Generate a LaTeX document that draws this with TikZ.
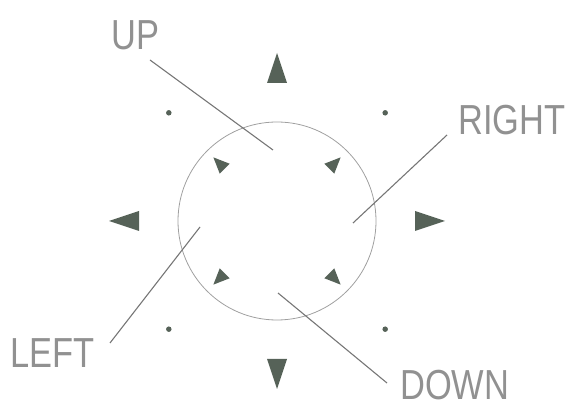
\documentclass[tikz,border=0pt]{standalone}
\usepackage{fontspec}
\newfontfamily\capfont[FakeStretch=0.82]{Liberation Sans}
\usetikzlibrary{calc}
\definecolor{inkgreen}{RGB}{86,98,88}
\definecolor{leadgray}{RGB}{118,118,118}
\definecolor{ringgray}{RGB}{160,160,160}
\definecolor{textgray}{RGB}{145,145,145}

\begin{document}
\begin{tikzpicture}[x=1pt,y=-1pt,
    caption/.style={inner sep=0pt,text=textgray,font=\capfont\fontsize{42}{42}\selectfont},
    leader/.style={draw=leadgray,line width=1.1pt},
    ring/.style={circle,draw=ringgray,line width=0.8pt,inner sep=0pt,minimum size=198pt},
    dot/.style={circle,fill=inkgreen,inner sep=0pt,minimum size=5.5pt},
    wedge/.style={fill=inkgreen}
  ]
    \useasboundingbox (0,0) rectangle (576,411);
    \coordinate (c) at (277,221);

    % pad outline
    \node[ring] (pad) at (c) {};

    % outer arrows, inner arrows, corner dots
    \foreach \ang in {0,90,180,270}
      \fill[wedge,shift={($(c)+(\ang:153)$)},rotate=-\ang]
        (15,0) -- (-15,10) -- (-15,-10) -- cycle;
    \foreach \ang in {45,135,225,315}{
      \fill[wedge,shift={($(c)+(\ang:82)$)},rotate=-\ang]
        (8,0) -- (-8,7) -- (-8,-7) -- cycle;
      \node[dot] (d\ang) at ($(c)+(\ang:153)$) {};
    }

    % labels
    \node[caption,anchor=base west] (tup) at (111,50) {UP};
    \node[caption,anchor=base west] (tright) at (458,135) {RIGHT};
    \node[caption,anchor=base east] (tleft) at (95,368) {LEFT};
    \node[caption,anchor=base west] (tdown) at (400,400) {DOWN};

    % leader lines
    \coordinate (up-a) at (150,60);    \coordinate (up-b) at (273,150);
    \coordinate (rt-a) at (447,135);   \coordinate (rt-b) at (353,223);
    \coordinate (lf-a) at (110,343);   \coordinate (lf-b) at (200,227);
    \coordinate (dn-a) at (387,383);   \coordinate (dn-b) at (278,293);
    \draw[leader] (up-a) -- (up-b);
    \draw[leader] (rt-a) -- (rt-b);
    \draw[leader] (lf-a) -- (lf-b);
    \draw[leader] (dn-a) -- (dn-b);
\end{tikzpicture}
\end{document}
